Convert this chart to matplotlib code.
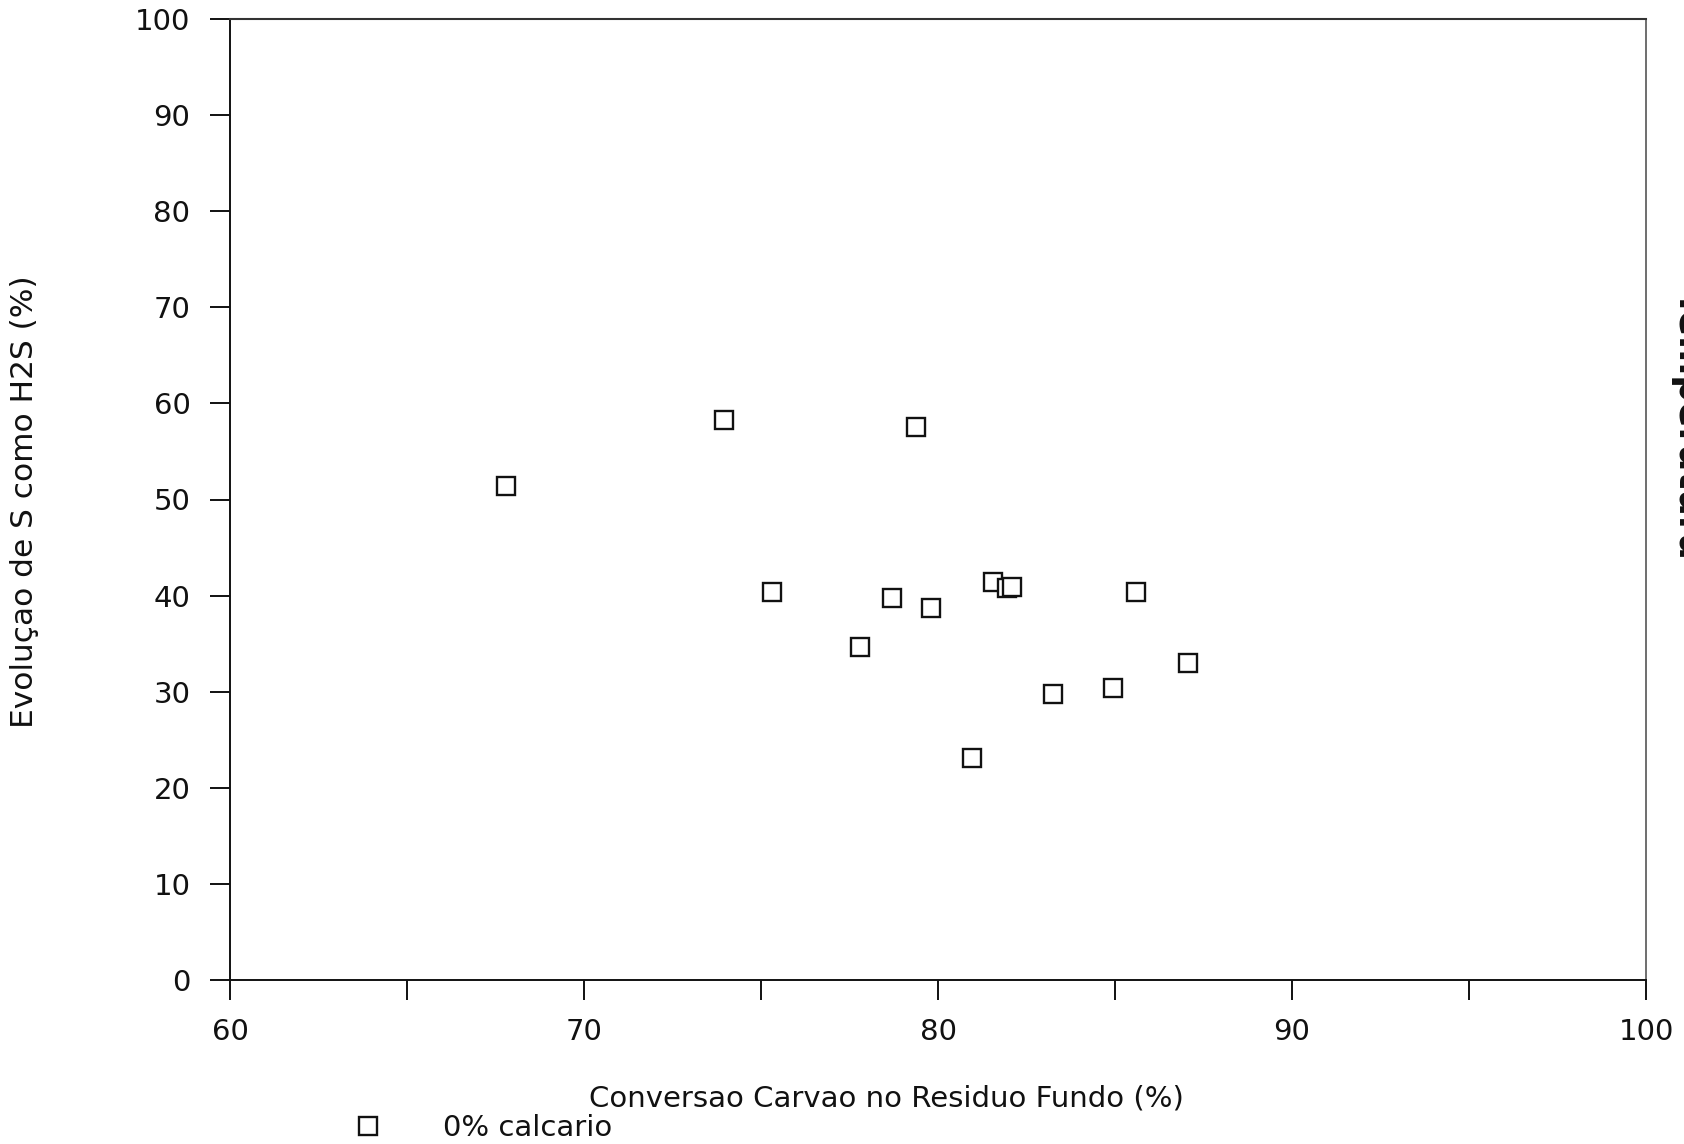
import matplotlib
matplotlib.use("Agg")
import matplotlib.pyplot as plt
from matplotlib.ticker import MultipleLocator

# conversao do carvao no residuo de fundo (%) vs evolucao de S como H2S (%)
conversao = [67.8, 73.96, 79.39, 75.3, 77.8, 78.7, 79.8, 81.55, 81.94, 82.1,
             80.97, 83.25, 84.95, 85.6, 87.07]
evolucao_h2s = [51.4, 58.3, 57.5, 40.4, 34.6, 39.7, 38.7, 41.45, 40.8, 40.9,
                23.1, 29.8, 30.4, 40.4, 33.0]

x_ticks = [60, 70, 80, 90, 100]
y_ticks = [0, 10, 20, 30, 40, 50, 60, 70, 80, 90, 100]

plt.rcParams["font.family"] = ["DejaVu Sans"]
FS = 21

fig = plt.figure(figsize=(16.84, 11.44), dpi=100)
ax = fig.add_axes([230 / 1684, 1 - 980 / 1144, (1646 - 230) / 1684, (980 - 19) / 1144])

ax.plot(conversao, evolucao_h2s, linestyle="none", marker="s", markersize=12.5,
        markerfacecolor="white", markeredgecolor="#111111", markeredgewidth=1.7,
        label="0% calcario")

ax.set_xlim(60, 100)
ax.set_ylim(0, 100)
ax.set_xticks(x_ticks)
ax.set_yticks(y_ticks)
ax.xaxis.set_minor_locator(MultipleLocator(5))

ax.tick_params(axis="both", which="both", direction="out", length=14.5,
               width=1.4, color="#111111", labelsize=FS, labelcolor="#111111")
ax.tick_params(axis="x", which="both", pad=13)
ax.tick_params(axis="y", pad=14)

for side in ["left", "bottom"]:
    ax.spines[side].set_linewidth(1.4)
    ax.spines[side].set_color("#111111")
ax.spines["right"].set_linewidth(1.2)
ax.spines["right"].set_color("#555555")
ax.spines["top"].set_linewidth(1.5)
ax.spines["top"].set_color("#333333")

fig.text(886 / 1684, 46 / 1144, "Conversao Carvao no Residuo Fundo (%)",
         ha="center", va="center", fontsize=FS, color="#111111")
fig.text(25 / 1684, 1 - 502 / 1144, "Evoluçao de S como H2S (%)", rotation=90,
         ha="center", va="center", fontsize=22.5, color="#111111")

# texto do eixo direito, cortado na borda do papel
fig.text(1671 / 1684, 1 - 290 / 1144, "Temperatura", rotation=270,
         ha="left", va="top", fontsize=27, fontweight="bold", color="#111111")

ax.legend(loc="center left", bbox_to_anchor=(353 / 1684, 16 / 1144),
          bbox_transform=fig.transFigure, frameon=False, fontsize=FS,
          handlelength=1.0, handletextpad=2.1, borderpad=0, borderaxespad=0,
          numpoints=1, labelcolor="#111111")

fig.savefig("out.png", dpi=100)
